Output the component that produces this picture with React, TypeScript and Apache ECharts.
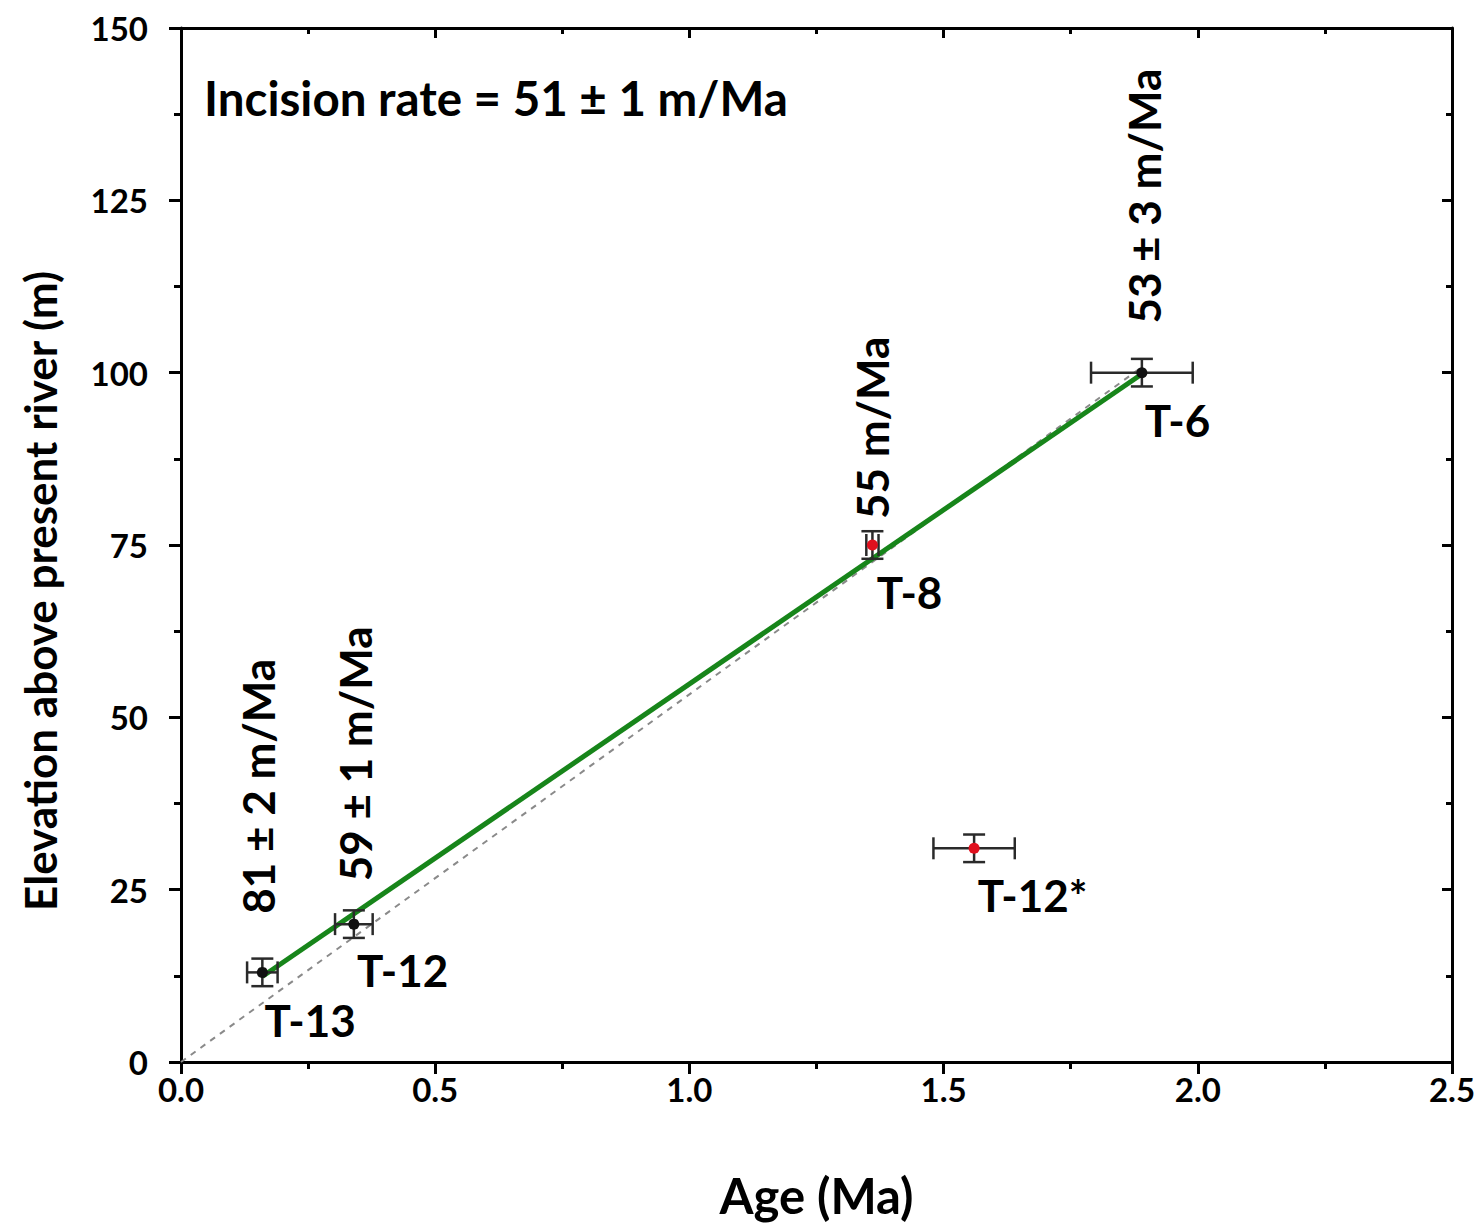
import React, { useEffect, useRef } from "react";
import * as echarts from "echarts";

const sampleNames = ["T-13", "T-12", "T-8", "T-6", "T-12*"];
const ages = [0.16, 0.34, 1.36, 1.89, 1.56];
const elevations = [13, 20, 75, 100, 31];
const ageErrors = [0.03, 0.037, 0.012, 0.1, 0.08];
const elevErrors = [2, 2, 2, 2, 2];
const pointColors = ["#111111", "#111111", "#e0101e", "#111111", "#e0101e"];
const nameLabelPos = [
  [0.254, 6.1],
  [0.436, 13.35],
  [1.433, 68.2],
  [1.96, 93.1],
  [1.675, 24.2],
];
const rateTexts = ["81 \u00b1 2 m/Ma", "59 \u00b1 1 m/Ma", "55 m/Ma", "53 \u00b1 3 m/Ma"];
const ratePos = [
  [0.151, 40.0],
  [0.342, 44.7],
  [1.36, 92.0],
  [1.895, 125.6],
];
const fitLine = [
  [0.16, 12.4],
  [1.89, 99.8],
];
const originLine = [
  [0, 0],
  [1.89, 100.8],
];
const titleText = "Incision rate = 51 \u00b1 1 m/Ma";
const yAxisTitle = "Elevation above present river (m)";
const xAxisTitle = "Age (Ma)";

const FONT = "Lato, 'Open Sans', sans-serif";
const INK = "#000000";

export default function App() {
  const ref = useRef<HTMLDivElement>(null);
  useEffect(() => {
    document.body.style.margin = "0";
    const chart = echarts.init(ref.current!, null, { renderer: "svg" });
    const errData = ages.map((a, i) => [a, elevations[i], ageErrors[i], elevErrors[i]]);
    const axisLine = { show: true, onZero: false, lineStyle: { color: "#000", width: 3 } };
    const tickStyle = { width: 3, color: "#000" };
    chart.setOption({
      animation: false,
      backgroundColor: "#fff",
      textStyle: { fontFamily: FONT },
      title: {
        text: titleText,
        left: 204,
        top: 73,
        padding: 0,
        textStyle: { fontFamily: FONT, fontSize: 47.5, fontWeight: "bold", color: INK },
      },
      graphic: [
        {
          type: "text",
          x: 40,
          y: 591,
          rotation: Math.PI / 2,
          style: {
            text: yAxisTitle,
            fontFamily: FONT,
            fontSize: 44,
            fontWeight: "bold",
            fill: INK,
            align: "center",
            verticalAlign: "middle",
          },
        },
      ],
      grid: { left: 181, top: 28, right: 32, bottom: 165, outerBoundsMode: "none", containLabel: false },
      xAxis: [
        {
          type: "value",
          min: 0,
          max: 2.5,
          interval: 0.5,
          position: "bottom",
          name: xAxisTitle,
          nameLocation: "middle",
          nameGap: 108,
          nameTextStyle: { fontFamily: FONT, fontSize: 49, fontWeight: "bold", color: INK },
          axisLine,
          axisTick: { show: true, inside: false, length: 12, lineStyle: tickStyle },
          minorTick: { show: true, splitNumber: 2, length: 7, lineStyle: tickStyle },
          splitLine: { show: false },
          axisLabel: {
            fontFamily: FONT,
            fontSize: 33,
            fontWeight: "bold",
            color: INK,
            margin: 10,
            formatter: (v: number) => v.toFixed(1),
          },
        },
        {
          type: "value",
          min: 0,
          max: 2.5,
          interval: 0.5,
          position: "top",
          axisLine,
          axisTick: { show: true, inside: true, length: 10, lineStyle: tickStyle },
          minorTick: { show: true, splitNumber: 2, length: 6, lineStyle: tickStyle },
          splitLine: { show: false },
          axisLabel: { show: false },
        },
      ],
      yAxis: [
        {
          type: "value",
          min: 0,
          max: 150,
          interval: 25,
          position: "left",
          axisLine,
          axisTick: { show: true, inside: false, length: 12, lineStyle: tickStyle },
          minorTick: { show: true, splitNumber: 2, length: 7, lineStyle: tickStyle },
          splitLine: { show: false },
          axisLabel: { fontFamily: FONT, fontSize: 33, fontWeight: "bold", color: INK, margin: 33 },
        },
        {
          type: "value",
          min: 0,
          max: 150,
          interval: 25,
          position: "right",
          axisLine,
          axisTick: { show: true, inside: true, length: 10, lineStyle: tickStyle },
          minorTick: { show: true, splitNumber: 2, length: 6, lineStyle: tickStyle },
          splitLine: { show: false },
          axisLabel: { show: false },
        },
      ],
      series: [
        {
          type: "line",
          data: originLine,
          showSymbol: false,
          symbol: "none",
          lineStyle: { color: "#8a8a8a", width: 2, type: [6, 6] },
          z: 1,
        },
        {
          type: "line",
          data: fitLine,
          showSymbol: false,
          symbol: "none",
          lineStyle: { color: "#17851a", width: 5 },
          z: 3,
        },
        {
          type: "custom",
          data: errData,
          z: 4,
          renderItem: (params: any, api: any) => {
            const x = api.value(0);
            const y = api.value(1);
            const dx = api.value(2);
            const dy = api.value(3);
            const l = api.coord([x - dx, y]);
            const r = api.coord([x + dx, y]);
            const t = api.coord([x, y + dy]);
            const b = api.coord([x, y - dy]);
            const cap = 11;
            const style = { stroke: "#2a2a2a", lineWidth: 2.5 };
            return {
              type: "group",
              children: [
                { type: "line", shape: { x1: l[0], y1: l[1], x2: r[0], y2: r[1] }, style },
                { type: "line", shape: { x1: l[0], y1: l[1] - cap, x2: l[0], y2: l[1] + cap }, style },
                { type: "line", shape: { x1: r[0], y1: r[1] - cap, x2: r[0], y2: r[1] + cap }, style },
                { type: "line", shape: { x1: t[0], y1: t[1], x2: b[0], y2: b[1] }, style },
                { type: "line", shape: { x1: t[0] - cap, y1: t[1], x2: t[0] + cap, y2: t[1] }, style },
                { type: "line", shape: { x1: b[0] - cap, y1: b[1], x2: b[0] + cap, y2: b[1] }, style },
              ],
            };
          },
        },
        {
          type: "scatter",
          data: ages.map((a, i) => ({
            value: [a, elevations[i]],
            itemStyle: { color: pointColors[i], opacity: 1 },
          })),
          symbol: "circle",
          symbolSize: 11,
          z: 5,
        },
        {
          type: "scatter",
          data: nameLabelPos.map((p, i) => ({ value: p, name: sampleNames[i] })),
          symbolSize: 0,
          silent: true,
          itemStyle: { opacity: 1 },
          z: 6,
          label: {
            show: true,
            position: "inside",
            formatter: (p: any) => p.name,
            fontFamily: FONT,
            fontSize: 44,
            fontWeight: "bold",
            color: INK,
            textBorderWidth: 0,
          },
        },
        {
          type: "scatter",
          data: ratePos.map((p, i) => ({ value: p, name: rateTexts[i] })),
          symbolSize: 0,
          silent: true,
          itemStyle: { opacity: 1 },
          z: 6,
          label: {
            show: true,
            position: "inside",
            rotate: 90,
            formatter: (p: any) => p.name,
            fontFamily: FONT,
            fontSize: 44,
            fontWeight: "bold",
            color: INK,
            textBorderWidth: 0,
          },
        },
      ],
    });
    return () => chart.dispose();
  }, []);
  return <div ref={ref} style={{ width: 1484, height: 1227 }} />;
}
